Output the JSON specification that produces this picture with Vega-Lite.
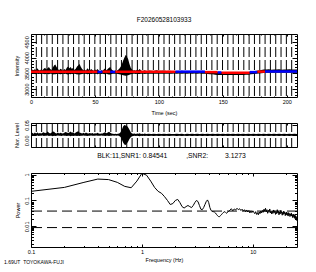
{
"$schema": "https://vega.github.io/schema/vega-lite/v6.json",
"padding": {"left": 3, "top": 16, "right": 0, "bottom": 0},
"background": "white",
"config": {
  "font": "Liberation Sans",
  "view": {"stroke": "black", "strokeWidth": 1},
  "axis": {"grid": false, "domain": false, "labelFont": "Liberation Sans", "titleFont": "Liberation Sans", "labelFontSize": 5.5, "titleFontSize": 5.5, "titleFontWeight": "normal", "labelColor": "black", "titleColor": "black", "tickColor": "black", "tickWidth": 1, "labelOverlap": false, "labelFlush": false},
  "title": {"font": "Liberation Sans", "fontWeight": "normal", "color": "black"}
},
"datasets": {
  "blocks": [{"t":4.16},{"t":8.32},{"t":12.48},{"t":16.64},{"t":20.8},{"t":24.96},{"t":29.12},{"t":33.28},{"t":37.44},{"t":41.6},{"t":45.76},{"t":49.92},{"t":54.08},{"t":58.24},{"t":62.4},{"t":66.56},{"t":70.72},{"t":74.88},{"t":79.04},{"t":83.2},{"t":87.36},{"t":91.52},{"t":95.68},{"t":99.84},{"t":104},{"t":108.16},{"t":112.32},{"t":116.48},{"t":120.64},{"t":124.8},{"t":128.96},{"t":133.12},{"t":137.28},{"t":141.44},{"t":145.6},{"t":149.76},{"t":153.92},{"t":158.08},{"t":162.24},{"t":166.4},{"t":170.56},{"t":174.72},{"t":178.88},{"t":183.04},{"t":187.2},{"t":191.36},{"t":195.52},{"t":199.68},{"t":203.84}],
  "sig": [
{"t":0,"lo":3485,"hi":3600,"nlo":-0.004,"nhi":0.007},
{"t":1,"lo":3478,"hi":3620,"nlo":-0.003,"nhi":0.011},
{"t":2,"lo":3490,"hi":3580,"nlo":-0.005,"nhi":0.006},
{"t":3,"lo":3482,"hi":3640,"nlo":-0.004,"nhi":0.012},
{"t":4,"lo":3475,"hi":3600,"nlo":-0.004,"nhi":0.008},
{"t":5,"lo":3488,"hi":3660,"nlo":-0.003,"nhi":0.013},
{"t":6,"lo":3480,"hi":3610,"nlo":-0.005,"nhi":0.007},
{"t":7,"lo":3492,"hi":3590,"nlo":-0.004,"nhi":0.010},
{"t":8,"lo":3476,"hi":3630,"nlo":-0.004,"nhi":0.007},
{"t":9,"lo":3485,"hi":3600,"nlo":-0.003,"nhi":0.011},
{"t":10,"lo":3480,"hi":3650,"nlo":-0.005,"nhi":0.014},
{"t":11,"lo":3472,"hi":3680,"nlo":-0.004,"nhi":0.009},
{"t":12,"lo":3488,"hi":3620,"nlo":-0.004,"nhi":0.012},
{"t":13,"lo":3478,"hi":3660,"nlo":-0.003,"nhi":0.017},
{"t":14,"lo":3470,"hi":3700,"nlo":-0.005,"nhi":0.011},
{"t":15,"lo":3485,"hi":3640,"nlo":-0.004,"nhi":0.008},
{"t":16,"lo":3490,"hi":3610,"nlo":-0.004,"nhi":0.013},
{"t":17,"lo":3468,"hi":3680,"nlo":-0.006,"nhi":0.018},
{"t":18,"lo":3475,"hi":3750,"nlo":-0.004,"nhi":0.016},
{"t":19,"lo":3470,"hi":3780,"nlo":-0.005,"nhi":0.010},
{"t":20,"lo":3482,"hi":3700,"nlo":-0.004,"nhi":0.008},
{"t":21,"lo":3488,"hi":3640,"nlo":-0.003,"nhi":0.012},
{"t":22,"lo":3480,"hi":3600,"nlo":-0.004,"nhi":0.007},
{"t":23,"lo":3476,"hi":3650,"nlo":-0.004,"nhi":0.011},
{"t":24,"lo":3484,"hi":3620,"nlo":-0.005,"nhi":0.009},
{"t":25,"lo":3490,"hi":3590,"nlo":-0.003,"nhi":0.007},
{"t":26,"lo":3479,"hi":3640,"nlo":-0.004,"nhi":0.011},
{"t":27,"lo":3485,"hi":3610,"nlo":-0.004,"nhi":0.015},
{"t":28,"lo":3472,"hi":3680,"nlo":-0.005,"nhi":0.012},
{"t":29,"lo":3468,"hi":3720,"nlo":-0.004,"nhi":0.010},
{"t":30,"lo":3480,"hi":3660,"nlo":-0.004,"nhi":0.013},
{"t":31,"lo":3470,"hi":3700,"nlo":-0.006,"nhi":0.017},
{"t":32,"lo":3486,"hi":3640,"nlo":-0.004,"nhi":0.011},
{"t":33,"lo":3474,"hi":3690,"nlo":-0.005,"nhi":0.014},
{"t":34,"lo":3488,"hi":3610,"nlo":-0.004,"nhi":0.008},
{"t":35,"lo":3480,"hi":3650,"nlo":-0.004,"nhi":0.012},
{"t":36,"lo":3466,"hi":3720,"nlo":-0.005,"nhi":0.016},
{"t":37,"lo":3470,"hi":3760,"nlo":-0.004,"nhi":0.019},
{"t":38,"lo":3462,"hi":3800,"nlo":-0.005,"nhi":0.013},
{"t":39,"lo":3475,"hi":3700,"nlo":-0.004,"nhi":0.010},
{"t":40,"lo":3484,"hi":3640,"nlo":-0.004,"nhi":0.007},
{"t":41,"lo":3490,"hi":3600,"nlo":-0.003,"nhi":0.011},
{"t":42,"lo":3482,"hi":3620,"nlo":-0.004,"nhi":0.008},
{"t":43,"lo":3488,"hi":3580,"nlo":-0.004,"nhi":0.012},
{"t":44,"lo":3474,"hi":3660,"nlo":-0.005,"nhi":0.009},
{"t":45,"lo":3483,"hi":3620,"nlo":-0.004,"nhi":0.007},
{"t":46,"lo":3490,"hi":3590,"nlo":-0.004,"nhi":0.010},
{"t":47,"lo":3478,"hi":3640,"nlo":-0.003,"nhi":0.007},
{"t":48,"lo":3486,"hi":3610,"nlo":-0.004,"nhi":0.010},
{"t":49,"lo":3492,"hi":3580,"nlo":-0.004,"nhi":0.006},
{"t":50,"lo":3480,"hi":3620,"nlo":-0.004,"nhi":0.009},
{"t":51,"lo":3487,"hi":3600,"nlo":-0.003,"nhi":0.007},
{"t":52,"lo":3476,"hi":3640,"nlo":-0.004,"nhi":0.011},
{"t":53,"lo":3489,"hi":3590,"nlo":-0.004,"nhi":0.008},
{"t":54,"lo":3492,"hi":3570,"nlo":-0.004,"nhi":0.006},
{"t":55,"lo":3484,"hi":3600,"nlo":-0.003,"nhi":0.008},
{"t":56,"lo":3490,"hi":3580,"nlo":-0.004,"nhi":0.007},
{"t":57,"lo":3478,"hi":3620,"nlo":-0.004,"nhi":0.011},
{"t":58,"lo":3470,"hi":3660,"nlo":-0.005,"nhi":0.014},
{"t":59,"lo":3485,"hi":3600,"nlo":-0.004,"nhi":0.009},
{"t":60,"lo":3476,"hi":3640,"nlo":-0.004,"nhi":0.012},
{"t":61,"lo":3468,"hi":3680,"nlo":-0.005,"nhi":0.016},
{"t":62,"lo":3465,"hi":3700,"nlo":-0.004,"nhi":0.011},
{"t":63,"lo":3480,"hi":3620,"nlo":-0.004,"nhi":0.008},
{"t":64,"lo":3488,"hi":3590,"nlo":-0.003,"nhi":0.006},
{"t":65,"lo":3492,"hi":3570,"nlo":-0.004,"nhi":0.005},
{"t":66,"lo":3486,"hi":3600,"nlo":-0.003,"nhi":0.006},
{"t":67,"lo":3490,"hi":3580,"nlo":-0.004,"nhi":0.005},
{"t":68,"lo":3484,"hi":3610,"nlo":-0.003,"nhi":0.006},
{"t":69,"lo":3476,"hi":3650,"nlo":-0.005,"nhi":0.008},
{"t":70,"lo":3468,"hi":3700,"nlo":-0.010,"nhi":0.014},
{"t":71,"lo":3455,"hi":3780,"nlo":-0.022,"nhi":0.026},
{"t":72,"lo":3440,"hi":3900,"nlo":-0.038,"nhi":0.042},
{"t":73,"lo":3430,"hi":4000,"nlo":-0.048,"nhi":0.050},
{"t":74,"lo":3425,"hi":4080,"nlo":-0.050,"nhi":0.048},
{"t":75,"lo":3430,"hi":4050,"nlo":-0.043,"nhi":0.046},
{"t":76,"lo":3440,"hi":3950,"nlo":-0.033,"nhi":0.038},
{"t":77,"lo":3455,"hi":3800,"nlo":-0.020,"nhi":0.026},
{"t":78,"lo":3470,"hi":3680,"nlo":-0.011,"nhi":0.014},
{"t":79,"lo":3480,"hi":3620,"nlo":-0.006,"nhi":0.008},
{"t":80,"lo":3486,"hi":3590,"nlo":-0.005,"nhi":0.006},
{"t":81,"lo":3490,"hi":3600,"nlo":-0.004,"nhi":0.007},
{"t":82,"lo":3484,"hi":3580,"nlo":-0.005,"nhi":0.005},
{"t":83,"lo":3488,"hi":3620,"nlo":-0.004,"nhi":0.008},
{"t":84,"lo":3482,"hi":3600,"nlo":-0.005,"nhi":0.006},
{"t":85,"lo":3478,"hi":3640,"nlo":-0.006,"nhi":0.009},
{"t":86,"lo":3490,"hi":3590,"nlo":-0.004,"nhi":0.005},
{"t":87,"lo":3492,"hi":3570,"nlo":-0.005,"nhi":0.006},
{"t":88,"lo":3486,"hi":3580,"nlo":-0.004,"nhi":0.005},
{"t":89,"lo":3484,"hi":3600,"nlo":-0.005,"nhi":0.007},
{"t":90,"lo":3490,"hi":3575,"nlo":-0.004,"nhi":0.005},
{"t":92,"lo":3488,"hi":3590,"nlo":-0.005,"nhi":0.006},
{"t":94,"lo":3492,"hi":3580,"nlo":-0.004,"nhi":0.005},
{"t":96,"lo":3486,"hi":3575,"nlo":-0.005,"nhi":0.006},
{"t":98,"lo":3490,"hi":3600,"nlo":-0.004,"nhi":0.005},
{"t":100,"lo":3488,"hi":3585,"nlo":-0.005,"nhi":0.006},
{"t":102,"lo":3492,"hi":3580,"nlo":-0.004,"nhi":0.005},
{"t":104,"lo":3486,"hi":3595,"nlo":-0.005,"nhi":0.006},
{"t":106,"lo":3490,"hi":3575,"nlo":-0.004,"nhi":0.005},
{"t":108,"lo":3488,"hi":3585,"nlo":-0.005,"nhi":0.006},
{"t":110,"lo":3492,"hi":3575,"nlo":-0.004,"nhi":0.005},
{"t":112,"lo":3494,"hi":3570,"nlo":-0.004,"nhi":0.005},
{"t":114,"lo":3490,"hi":3575,"nlo":-0.005,"nhi":0.006},
{"t":116,"lo":3495,"hi":3565,"nlo":-0.004,"nhi":0.005},
{"t":118,"lo":3488,"hi":3580,"nlo":-0.005,"nhi":0.006},
{"t":120,"lo":3494,"hi":3570,"nlo":-0.004,"nhi":0.004},
{"t":122,"lo":3490,"hi":3575,"nlo":-0.005,"nhi":0.006},
{"t":124,"lo":3496,"hi":3568,"nlo":-0.004,"nhi":0.005},
{"t":126,"lo":3490,"hi":3578,"nlo":-0.005,"nhi":0.006},
{"t":128,"lo":3494,"hi":3570,"nlo":-0.004,"nhi":0.005},
{"t":130,"lo":3488,"hi":3575,"nlo":-0.005,"nhi":0.006},
{"t":132,"lo":3494,"hi":3570,"nlo":-0.004,"nhi":0.005},
{"t":134,"lo":3490,"hi":3580,"nlo":-0.005,"nhi":0.006},
{"t":136,"lo":3485,"hi":3560,"nlo":-0.004,"nhi":0.005},
{"t":138,"lo":3480,"hi":3555,"nlo":-0.005,"nhi":0.006},
{"t":140,"lo":3476,"hi":3550,"nlo":-0.004,"nhi":0.005},
{"t":142,"lo":3470,"hi":3548,"nlo":-0.005,"nhi":0.006},
{"t":144,"lo":3460,"hi":3545,"nlo":-0.004,"nhi":0.005},
{"t":146,"lo":3452,"hi":3540,"nlo":-0.005,"nhi":0.006},
{"t":148,"lo":3450,"hi":3538,"nlo":-0.004,"nhi":0.005},
{"t":150,"lo":3448,"hi":3540,"nlo":-0.005,"nhi":0.006},
{"t":152,"lo":3452,"hi":3536,"nlo":-0.004,"nhi":0.005},
{"t":154,"lo":3446,"hi":3540,"nlo":-0.005,"nhi":0.006},
{"t":156,"lo":3450,"hi":3535,"nlo":-0.004,"nhi":0.005},
{"t":158,"lo":3448,"hi":3540,"nlo":-0.005,"nhi":0.006},
{"t":160,"lo":3452,"hi":3536,"nlo":-0.004,"nhi":0.005},
{"t":162,"lo":3446,"hi":3538,"nlo":-0.005,"nhi":0.006},
{"t":164,"lo":3450,"hi":3540,"nlo":-0.004,"nhi":0.005},
{"t":166,"lo":3448,"hi":3536,"nlo":-0.005,"nhi":0.006},
{"t":168,"lo":3455,"hi":3540,"nlo":-0.004,"nhi":0.005},
{"t":170,"lo":3460,"hi":3545,"nlo":-0.005,"nhi":0.006},
{"t":172,"lo":3470,"hi":3560,"nlo":-0.004,"nhi":0.005},
{"t":174,"lo":3478,"hi":3570,"nlo":-0.005,"nhi":0.006},
{"t":176,"lo":3485,"hi":3580,"nlo":-0.004,"nhi":0.005},
{"t":178,"lo":3495,"hi":3595,"nlo":-0.005,"nhi":0.006},
{"t":180,"lo":3505,"hi":3610,"nlo":-0.004,"nhi":0.005},
{"t":182,"lo":3515,"hi":3625,"nlo":-0.005,"nhi":0.006},
{"t":184,"lo":3520,"hi":3620,"nlo":-0.004,"nhi":0.005},
{"t":186,"lo":3518,"hi":3630,"nlo":-0.005,"nhi":0.006},
{"t":188,"lo":3522,"hi":3615,"nlo":-0.004,"nhi":0.005},
{"t":190,"lo":3516,"hi":3625,"nlo":-0.005,"nhi":0.006},
{"t":192,"lo":3520,"hi":3620,"nlo":-0.004,"nhi":0.005},
{"t":194,"lo":3522,"hi":3628,"nlo":-0.005,"nhi":0.006},
{"t":196,"lo":3518,"hi":3618,"nlo":-0.004,"nhi":0.005},
{"t":198,"lo":3520,"hi":3625,"nlo":-0.005,"nhi":0.006},
{"t":200,"lo":3516,"hi":3620,"nlo":-0.004,"nhi":0.005},
{"t":202,"lo":3522,"hi":3630,"nlo":-0.005,"nhi":0.006},
{"t":204,"lo":3518,"hi":3622,"nlo":-0.004,"nhi":0.005},
{"t":206,"lo":3520,"hi":3625,"nlo":-0.005,"nhi":0.006},
{"t":208,"lo":3518,"hi":3620,"nlo":-0.004,"nhi":0.005}
  ],
  "seg": [
{"t0":0,"t1":52,"v":3555,"c":"r"},
{"t0":52,"t1":56,"v":3548,"c":"b"},
{"t0":56,"t1":62,"v":3555,"c":"r"},
{"t0":62,"t1":66,"v":3548,"c":"b"},
{"t0":66,"t1":113,"v":3555,"c":"r"},
{"t0":113,"t1":136,"v":3555,"c":"b"},
{"t0":136,"t1":146,"v":3540,"c":"r"},
{"t0":146,"t1":149,"v":3530,"c":"b"},
{"t0":149,"t1":171,"v":3520,"c":"r"},
{"t0":171,"t1":177,"v":3540,"c":"b"},
{"t0":177,"t1":183,"v":3555,"c":"r"},
{"t0":183,"t1":208,"v":3560,"c":"b"}
  ],
  "spec": [
{"f":0.1,"p":0.225},{"f":0.2,"p":0.32},{"f":0.3,"p":0.5},{"f":0.4,"p":0.67},{"f":0.5,"p":0.64},{"f":0.6,"p":0.5},{"f":0.7,"p":0.35},{"f":0.8,"p":0.31},{"f":0.9,"p":0.56},{"f":1.0,"p":1.12},
{"f":1.1,"p":0.95},{"f":1.2,"p":0.56},{"f":1.3,"p":0.32},{"f":1.4,"p":0.225},{"f":1.5,"p":0.19},{"f":1.6,"p":0.14},{"f":1.7,"p":0.1},{"f":1.8,"p":0.07},{"f":1.9,"p":0.076},{"f":2.0,"p":0.1},
{"f":2.1,"p":0.11},{"f":2.2,"p":0.083},{"f":2.3,"p":0.058},{"f":2.4,"p":0.051},{"f":2.5,"p":0.058},{"f":2.6,"p":0.064},{"f":2.7,"p":0.058},{"f":2.8,"p":0.053},{"f":2.9,"p":0.064},{"f":3.0,"p":0.083},
{"f":3.1,"p":0.1},{"f":3.2,"p":0.091},{"f":3.3,"p":0.064},{"f":3.4,"p":0.046},{"f":3.5,"p":0.044},{"f":3.6,"p":0.053},{"f":3.7,"p":0.07},{"f":3.8,"p":0.091},{"f":3.9,"p":0.105},{"f":4.0,"p":0.083},
{"f":4.1,"p":0.053},{"f":4.2,"p":0.041},{"f":4.3,"p":0.038},{"f":4.4,"p":0.037},{"f":4.5,"p":0.036},{"f":4.6,"p":0.033},{"f":4.7,"p":0.029},{"f":4.8,"p":0.026},{"f":4.9,"p":0.024},{"f":5.0,"p":0.0236},
{"f":5.1,"p":0.026},{"f":5.2,"p":0.028},{"f":5.3,"p":0.031},{"f":5.4,"p":0.034},{"f":5.5,"p":0.036},{"f":5.6,"p":0.037},{"f":5.7,"p":0.034},{"f":5.8,"p":0.032},{"f":5.9,"p":0.035},{"f":6.0,"p":0.037},
{"f":6.2,"p":0.042},{"f":6.4,"p":0.048},{"f":6.6,"p":0.04},{"f":6.8,"p":0.047},{"f":7.0,"p":0.043},{"f":7.2,"p":0.05},{"f":7.4,"p":0.044},{"f":7.6,"p":0.048},{"f":7.8,"p":0.041},{"f":8.0,"p":0.046},
{"f":8.2,"p":0.039},{"f":8.4,"p":0.044},{"f":8.6,"p":0.037},{"f":8.8,"p":0.043},{"f":9.0,"p":0.036},{"f":9.2,"p":0.041},{"f":9.4,"p":0.033},{"f":9.6,"p":0.039},{"f":9.8,"p":0.034},{"f":10.0,"p":0.04},
{"f":10.2,"p":0.035},{"f":10.4,"p":0.031},{"f":10.6,"p":0.037},{"f":10.8,"p":0.029},{"f":11.0,"p":0.034},{"f":11.2,"p":0.028},{"f":11.4,"p":0.036},{"f":11.6,"p":0.031},{"f":11.8,"p":0.039},{"f":12.0,"p":0.033},
{"f":12.2,"p":0.041},{"f":12.4,"p":0.035},{"f":12.6,"p":0.046},{"f":12.8,"p":0.038},{"f":13.0,"p":0.05},{"f":13.2,"p":0.036},{"f":13.4,"p":0.044},{"f":13.6,"p":0.032},{"f":13.8,"p":0.042},{"f":14.0,"p":0.035},
{"f":14.2,"p":0.047},{"f":14.4,"p":0.033},{"f":14.6,"p":0.04},{"f":14.8,"p":0.03},{"f":15.0,"p":0.038},{"f":15.2,"p":0.032},{"f":15.4,"p":0.043},{"f":15.6,"p":0.034},{"f":15.8,"p":0.039},{"f":16.0,"p":0.029},
{"f":16.2,"p":0.037},{"f":16.4,"p":0.031},{"f":16.6,"p":0.044},{"f":16.8,"p":0.033},{"f":17.0,"p":0.038},{"f":17.2,"p":0.028},{"f":17.4,"p":0.036},{"f":17.6,"p":0.03},{"f":17.8,"p":0.041},{"f":18.0,"p":0.032},
{"f":18.2,"p":0.037},{"f":18.4,"p":0.027},{"f":18.6,"p":0.035},{"f":18.8,"p":0.029},{"f":19.0,"p":0.039},{"f":19.2,"p":0.031},{"f":19.4,"p":0.036},{"f":19.6,"p":0.026},{"f":19.8,"p":0.033},{"f":20.0,"p":0.028},
{"f":20.2,"p":0.036},{"f":20.4,"p":0.027},{"f":20.6,"p":0.032},{"f":20.8,"p":0.025},{"f":21.0,"p":0.034},{"f":21.2,"p":0.028},{"f":21.4,"p":0.031},{"f":21.6,"p":0.024},{"f":21.8,"p":0.03},{"f":22.0,"p":0.026},
{"f":22.2,"p":0.033},{"f":22.4,"p":0.025},{"f":22.6,"p":0.029},{"f":22.8,"p":0.022},{"f":23.0,"p":0.028},{"f":23.2,"p":0.024},{"f":23.4,"p":0.03},{"f":23.6,"p":0.021},{"f":23.8,"p":0.027},{"f":24.0,"p":0.02},
{"f":24.2,"p":0.026},{"f":24.4,"p":0.019},{"f":24.6,"p":0.024},{"f":24.8,"p":0.017},{"f":25.0,"p":0.021}
  ],
  "levels": [{"p":0.039},{"p":0.009}]
},
"bounds": "flush",
"spacing": 26,
"vconcat": [
 {
  "width": 266, "height": 63,
  "title": {"text": "F20260528103933", "fontSize": 6.5, "offset": 10.5, "frame": "group"},
  "resolve": {"axis": {"x": "independent", "y": "independent"}},
  "layer": [
   {"data": {"name": "blocks"}, "mark": {"type": "rule", "color": "black", "strokeWidth": 1, "strokeDash": [10, 3]},
    "encoding": {"x": {"field": "t", "type": "quantitative", "scale": {"domain": [0, 208], "nice": false, "zero": false},
      "axis": {"orient": "bottom", "values": [0, 50, 100, 150, 200], "format": "d", "title": "Time (sec)", "tickSize": -2, "labelPadding": 4.5, "titlePadding": 5}}}},
   {"data": {"name": "sig"}, "mark": {"type": "area", "color": "black"},
    "encoding": {"x": {"field": "t", "type": "quantitative", "axis": null},
      "y": {"field": "lo", "type": "quantitative", "scale": {"domain": [2750, 4750], "nice": false, "zero": false},
        "axis": {"orient": "left", "values": [3000, 3500, 4000, 4500], "format": "d", "labelAngle": -90, "title": "Intensity", "tickSize": -5, "labelPadding": 6.5, "titlePadding": 5}},
      "y2": {"field": "hi"}}},
   {"data": {"name": "seg"}, "mark": {"type": "rule", "strokeWidth": 2.5},
    "encoding": {"x": {"field": "t0", "type": "quantitative", "axis": null}, "x2": {"field": "t1"},
      "y": {"field": "v", "type": "quantitative", "axis": null},
      "color": {"field": "c", "type": "nominal", "scale": {"domain": ["r", "b"], "range": ["#ff0000", "#0000ff"]}, "legend": null}}},
   {"data": {"values": [{}]}, "mark": {"type": "point", "opacity": 0},
    "encoding": {"x": {"datum": 0, "type": "quantitative", "axis": {"orient": "top", "values": [0, 50, 100, 150, 200], "labels": false, "title": null, "tickSize": -2}},
      "y": {"datum": 3500, "type": "quantitative", "axis": {"orient": "right", "values": [3000, 3500, 4000, 4500], "labels": false, "title": null, "tickSize": -5}}}},
   {"data": {"values": [{}]}, "mark": {"type": "point", "opacity": 0},
    "encoding": {"x": {"datum": 0, "type": "quantitative", "axis": {"orient": "bottom", "values": [10,20,30,40,60,70,80,90,110,120,130,140,160,170,180,190], "labels": false, "title": null, "tickSize": -1}},
      "y": {"datum": 3500, "type": "quantitative", "axis": {"orient": "left", "values": [2800,2900,3100,3200,3300,3400,3600,3700,3800,3900,4100,4200,4300,4400,4600,4700], "labels": false, "title": null, "tickSize": -2.5}}}},
   {"data": {"values": [{}]}, "mark": {"type": "point", "opacity": 0},
    "encoding": {"x": {"datum": 0, "type": "quantitative", "axis": {"orient": "top", "values": [10,20,30,40,60,70,80,90,110,120,130,140,160,170,180,190], "labels": false, "title": null, "tickSize": -1}},
      "y": {"datum": 3500, "type": "quantitative", "axis": {"orient": "right", "values": [2800,2900,3100,3200,3300,3400,3600,3700,3800,3900,4100,4200,4300,4400,4600,4700], "labels": false, "title": null, "tickSize": -2.5}}}}
  ]
 },
 {
  "width": 266, "height": 24,
  "title": {"text": "BLK:11,SNR1: 0.84541\u00a0\u00a0\u00a0\u00a0\u00a0\u00a0\u00a0\u00a0\u00a0\u00a0,SNR2:\u00a0\u00a0\u00a0\u00a0\u00a0\u00a0\u00a0\u00a0\u00a03.1273", "orient": "bottom", "fontSize": 6.8, "offset": 5.5, "dx": 7.5, "frame": "group"},
  "resolve": {"axis": {"x": "independent", "y": "independent"}},
  "layer": [
   {"data": {"name": "blocks"}, "mark": {"type": "rule", "color": "black", "strokeWidth": 1, "strokeDash": [9, 6]},
    "encoding": {"x": {"field": "t", "type": "quantitative", "scale": {"domain": [0, 208], "nice": false, "zero": false},
      "axis": {"orient": "bottom", "values": [0, 50, 100, 150, 200], "labels": false, "title": null, "tickSize": -2}}}},
   {"data": {"name": "sig"}, "mark": {"type": "area", "color": "black"},
    "encoding": {"x": {"field": "t", "type": "quantitative", "axis": null},
      "y": {"field": "nlo", "type": "quantitative", "scale": {"domain": [-0.06, 0.06], "nice": false, "zero": false},
        "axis": {"orient": "left", "values": [0, 0.05], "format": ".2f", "labelAngle": -90, "labelAlign": {"condition": {"test": "datum.value === 0", "value": "right"}, "value": "center"}, "title": "Nor. Level", "tickSize": -5, "labelPadding": 6.5, "titlePadding": 5}},
      "y2": {"field": "nhi"}}},
   {"data": {"values": [{}]}, "mark": {"type": "point", "opacity": 0},
    "encoding": {"x": {"datum": 0, "type": "quantitative", "axis": {"orient": "top", "values": [0, 50, 100, 150, 200], "labels": false, "title": null, "tickSize": -2}},
      "y": {"datum": 0, "type": "quantitative", "axis": {"orient": "right", "values": [0, 0.05], "labels": false, "title": null, "tickSize": -5}}}}
  ]
 },
 {
  "width": 266, "height": 74,
  "title": {"text": "1.69UT\u00a0\u00a0TOYOKAWA-FUJI", "orient": "bottom", "anchor": "start", "fontSize": 5, "offset": -3, "dx": -11},
  "resolve": {"axis": {"x": "independent", "y": "independent"}},
  "layer": [
   {"data": {"name": "spec"}, "mark": {"type": "line", "color": "black", "strokeWidth": 1, "clip": true},
    "encoding": {"x": {"field": "f", "type": "quantitative", "scale": {"type": "log", "domain": [0.1, 25], "nice": false},
        "axis": {"orient": "bottom", "values": [0.1, 1, 10], "format": "~g", "title": "Frequency (Hz)", "tickSize": -3, "labelPadding": 5, "titlePadding": 3}},
      "y": {"field": "p", "type": "quantitative", "scale": {"type": "log", "domain": [0.0016, 1.15], "nice": false},
        "axis": {"orient": "left", "values": [0.01, 0.1, 1], "format": "~g", "labelAngle": -90, "title": "Power", "tickSize": -5, "labelPadding": 7, "titlePadding": 4}}}},
   {"data": {"name": "levels"}, "mark": {"type": "rule", "color": "black", "strokeWidth": 1, "strokeDash": [10, 5]},
    "encoding": {"y": {"field": "p", "type": "quantitative", "axis": null}}},
   {"data": {"values": [{}]}, "mark": {"type": "point", "opacity": 0},
    "encoding": {"x": {"datum": 1, "type": "quantitative", "axis": {"orient": "top", "values": [0.1, 1, 10], "labels": false, "title": null, "tickSize": -3}},
      "y": {"datum": 0.1, "type": "quantitative", "axis": {"orient": "right", "values": [0.01, 0.1, 1], "labels": false, "title": null, "tickSize": -5}}}},
   {"data": {"values": [{}]}, "mark": {"type": "point", "opacity": 0},
    "encoding": {"x": {"datum": 1, "type": "quantitative", "axis": {"orient": "bottom", "values": [0.2,0.3,0.4,0.5,0.6,0.7,0.8,0.9,2,3,4,5,6,7,8,9,20], "labels": false, "title": null, "tickSize": -1.5}},
      "y": {"datum": 0.1, "type": "quantitative", "axis": {"orient": "left", "values": [0.002,0.003,0.004,0.005,0.006,0.007,0.008,0.009,0.02,0.03,0.04,0.05,0.06,0.07,0.08,0.09,0.2,0.3,0.4,0.5,0.6,0.7,0.8,0.9], "labels": false, "title": null, "tickSize": -2.5}}}},
   {"data": {"values": [{}]}, "mark": {"type": "point", "opacity": 0},
    "encoding": {"x": {"datum": 1, "type": "quantitative", "axis": {"orient": "top", "values": [0.2,0.3,0.4,0.5,0.6,0.7,0.8,0.9,2,3,4,5,6,7,8,9,20], "labels": false, "title": null, "tickSize": -1.5}},
      "y": {"datum": 0.1, "type": "quantitative", "axis": {"orient": "right", "values": [0.002,0.003,0.004,0.005,0.006,0.007,0.008,0.009,0.02,0.03,0.04,0.05,0.06,0.07,0.08,0.09,0.2,0.3,0.4,0.5,0.6,0.7,0.8,0.9], "labels": false, "title": null, "tickSize": -2.5}}}}
  ]
 }
]
}
